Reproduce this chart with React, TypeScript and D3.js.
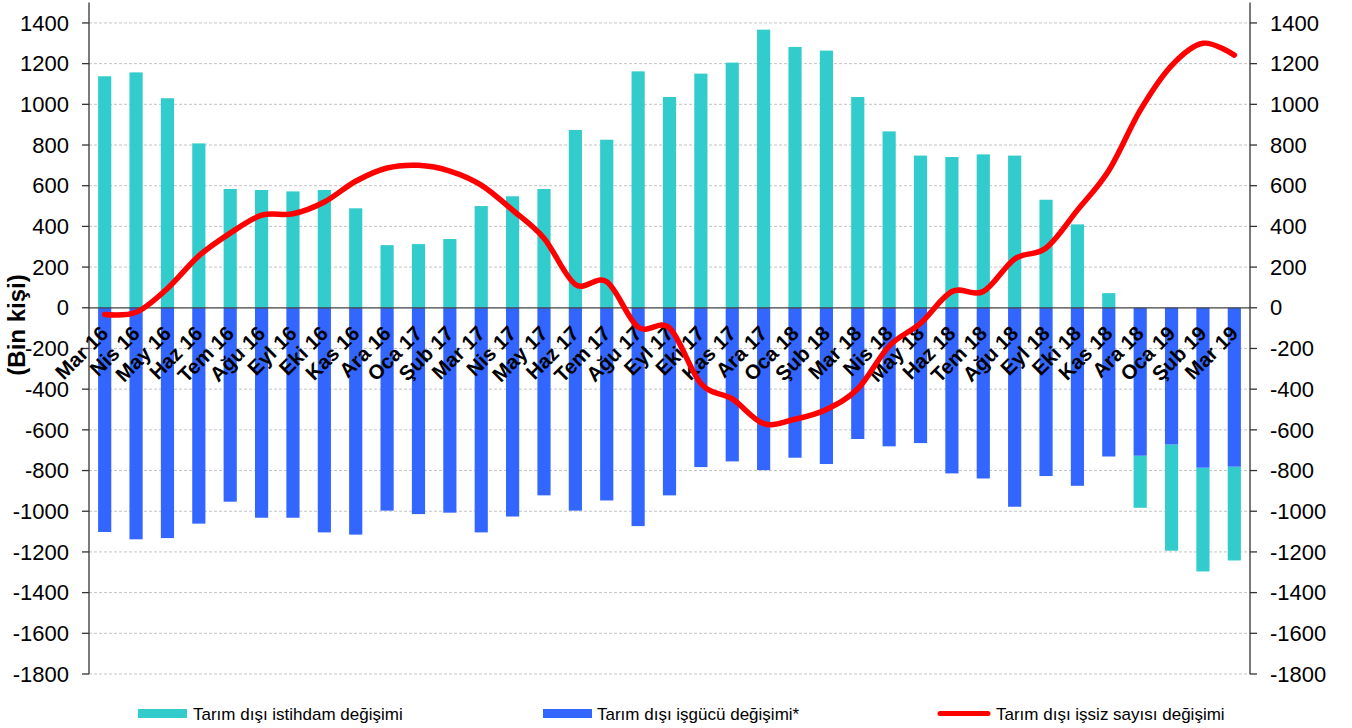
import React from 'react';
import * as d3 from 'd3';

// categories (months)
const months = [
  'Mar 16', 'Nis 16', 'May 16', 'Haz 16', 'Tem 16', 'Ağu 16', 'Eyl 16', 'Eki 16', 'Kas 16', 'Ara 16',
  'Oca 17', 'Şub 17', 'Mar 17', 'Nis 17', 'May 17', 'Haz 17', 'Tem 17', 'Ağu 17', 'Eyl 17', 'Eki 17',
  'Kas 17', 'Ara 17', 'Oca 18', 'Şub 18', 'Mar 18', 'Nis 18', 'May 18', 'Haz 18', 'Tem 18', 'Ağu 18',
  'Eyl 18', 'Eki 18', 'Kas 18', 'Ara 18', 'Oca 19', 'Şub 19', 'Mar 19',
];

// Tarım dışı istihdam değişimi
const istihdam = [
  1138, 1157, 1030, 808, 584, 579, 572, 579, 489, 308,
  313, 338, 500, 548, 584, 874, 826, 1162, 1036, 1151,
  1205, 1367, 1282, 1264, 1036, 867, 748, 741, 754, 748,
  531, 410, 72, -256, -522, -510, -461,
];

// Tarım dışı işgücü değişimi* (drawn inverted)
const isgucu = [
  -1102, -1138, -1132, -1061, -953, -1032, -1032, -1104, -1115, -997,
  -1014, -1007, -1104, -1026, -922, -997, -947, -1073, -922, -783,
  -755, -798, -737, -768, -645, -681, -665, -814, -839, -978,
  -827, -875, -731, -727, -672, -786, -781,
];

// Tarım dışı işsiz sayısı değişimi
const issiz = [
  -33, -22, 95, 255, 367, 455, 462, 520, 622, 687,
  700, 672, 603, 480, 342, 115, 128, -95, -100, -372,
  -448, -569, -548, -500, -398, -188, -76, 80, 80, 240,
  294, 480, 675, 970, 1190, 1300, 1242,
];

const yTicks = d3.range(-1800, 1401, 200);

const W = 1352;
const H = 728;
const left = 89;
const right = 1250;
const FONT = 'Arial, "Liberation Sans", sans-serif';

export default function App() {
  const x = d3.scaleBand<string>().domain(months).range([left, right]).paddingInner(0.58).paddingOuter(0.29);
  const y = d3.scaleLinear().domain([-1800, 1500]).range([674, 2.6]);

  const rows = months.map((m, i) => ({ m, isgucu: isgucu[i], istihdam: istihdam[i] }));
  const series = d3.stack<any>().keys(['isgucu', 'istihdam']).offset(d3.stackOffsetDiverging)(rows);
  const colors: Record<string, string> = { isgucu: '#3366FF', istihdam: '#33CCCC' };

  const line = d3
    .line<number>()
    .x((_, i) => (x(months[i]) as number) + x.bandwidth() / 2)
    .y((d) => y(d))
    .curve(d3.curveCardinal.tension(0));

  const y0 = y(0);

  return (
    <div style={{ position: 'absolute', left: 0, top: 0 }}>
      <svg width={W} height={H} style={{ display: 'block', fontFamily: FONT }}>
        <rect width={W} height={H} fill="#fff" />
        {/* grid */}
        {yTicks.filter((t) => t !== 0).map((t) => (
          <line key={t} x1={left} x2={right} y1={y(t)} y2={y(t)} stroke="#c4c4c4" strokeWidth={1} strokeDasharray="3,2" />
        ))}
        {/* bars: teal first so blue sits on top */}
        {[series[1], series[0]].map((s) => (
          <g key={s.key} fill={colors[s.key]}>
            {s.map((d, i) => (
              <rect
                key={i}
                x={x(months[i])}
                width={x.bandwidth()}
                y={y(Math.max(d[0], d[1]))}
                height={Math.abs(y(d[0]) - y(d[1]))}
              />
            ))}
          </g>
        ))}
        {/* zero line */}
        <line x1={left} x2={right} y1={y0} y2={y0} stroke="#404040" strokeWidth={1.3} />
        {/* axes */}
        <line x1={left} x2={left} y1={y(1500)} y2={y(-1800)} stroke="#333" strokeWidth={1.3} />
        <line x1={right} x2={right} y1={y(1500)} y2={y(-1800)} stroke="#333" strokeWidth={1.3} />
        {yTicks.map((t) => (
          <g key={t}>
            <line x1={left - 7} x2={left} y1={y(t)} y2={y(t)} stroke="#333" strokeWidth={1.3} />
            <line x1={right} x2={right + 7} y1={y(t)} y2={y(t)} stroke="#333" strokeWidth={1.3} />
            <text x={left - 20} y={y(t)} dy="0.35em" textAnchor="end" fontSize={22} fill="#000">{t}</text>
            <text x={right + 20} y={y(t)} dy="0.35em" textAnchor="start" fontSize={22} fill="#000">{t}</text>
          </g>
        ))}
        {/* category labels */}
        {months.map((m) => {
          const cx = (x(m) as number) + x.bandwidth() / 2;
          return (
            <text
              key={m}
              transform={`translate(${cx + 5},${y0 + 27}) rotate(-45)`}
              textAnchor="end"
              fontSize={20.5}
              fontWeight="bold"
              fill="#000"
            >
              {m}
            </text>
          );
        })}
        {/* line */}
        <path d={line(issiz) || ''} fill="none" stroke="#FF0000" strokeWidth={5.5} strokeLinecap="round" strokeLinejoin="round" />
        {/* y title */}
        <text transform="translate(25,325) rotate(-90)" textAnchor="middle" fontSize={24} fontWeight="bold" fill="#000">
          (Bin kişi)
        </text>
        {/* legend */}
        <g fontSize={17} fill="#000">
          <rect x={138} y={709} width={49} height={9} fill="#33CCCC" />
          <text x={193} y={720}>Tarım dışı istihdam değişimi</text>
          <rect x={543} y={709} width={49} height={9} fill="#3366FF" />
          <text x={597} y={720}>Tarım dışı işgücü değişimi*</text>
          <line x1={940} x2={988} y1={713.5} y2={713.5} stroke="#FF0000" strokeWidth={5} strokeLinecap="round" />
          <text x={996} y={720}>Tarım dışı işsiz sayısı değişimi</text>
        </g>
      </svg>
    </div>
  );
}
